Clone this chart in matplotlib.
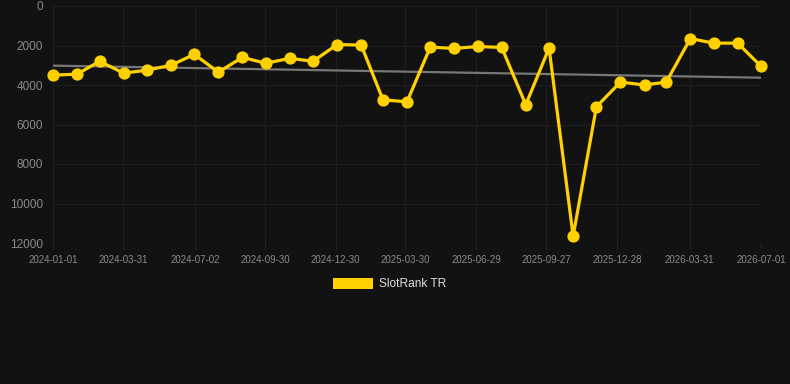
import matplotlib
matplotlib.use("Agg")
import matplotlib.pyplot as plt
import matplotlib.dates as mdates
from matplotlib.patches import Rectangle
import numpy as np
import pandas as pd

# ---- data ----
dates = pd.date_range("2024-01-01", "2026-07-01", freq="MS")
rank_values = [3500, 3450, 2800, 3400, 3250, 3000, 2450, 3350, 2600, 2900,
               2650, 2800, 1950, 1980, 4750, 4850, 2080, 2150, 2050, 2100,
               5000, 2130, 11650, 5100, 3850, 4000, 3850, 1650, 1880, 1880,
               3050]
trend_dates = ["2024-01-01", "2026-07-01"]
trend_values = [3020, 3630]
tick_labels = ["2024-01-01", "2024-03-31", "2024-07-02", "2024-09-30",
               "2024-12-30", "2025-03-30", "2025-06-29", "2025-09-27",
               "2025-12-28", "2026-03-31", "2026-07-01"]
y_ticks = [0, 2000, 4000, 6000, 8000, 10000, 12000]
series_name = "SlotRank TR"

BG = "#121212"
GOLD = "#FFD100"

plt.rcParams["font.family"] = ["Liberation Sans", "DejaVu Sans"]

W, H = 790, 384
fig = plt.figure(figsize=(W / 100, H / 100), dpi=100, facecolor=BG)
ax = fig.add_axes([53 / W, 1 - 243 / H, (761 - 53) / W, (243 - 6) / H])
ax.set_facecolor(BG)

x_ticks = pd.to_datetime(tick_labels)
ax.set_xlim(x_ticks[0], x_ticks[-1])
ax.set_ylim(12000, 0)

ax.plot(pd.to_datetime(trend_dates), trend_values, color="#777777", lw=1.6,
        solid_capstyle="butt", zorder=2)
ax.plot(dates, rank_values, color=GOLD, lw=2.3, marker="o", markersize=7.8,
        markerfacecolor=GOLD, markeredgecolor=GOLD, zorder=3, clip_on=False)

ax.set_xticks(x_ticks)
ax.set_xticklabels(tick_labels)
ax.set_yticks(y_ticks)
ax.set_yticklabels([str(v) for v in y_ticks])

ax.grid(True, color="#1e1e1e", lw=0.8)
ax.set_axisbelow(True)
for s in ax.spines.values():
    s.set_visible(False)
ax.tick_params(axis="x", colors="#262626", labelcolor="#8a8a8a", labelsize=7,
               length=4, width=0.8, pad=4.5)
ax.tick_params(axis="y", colors="#262626", labelcolor="#8a8a8a", labelsize=8.5,
               length=0, pad=7.2)

# legend
fig.patches.append(Rectangle((333 / W, 1 - 289 / H), 40 / W, 11 / H,
                             transform=fig.transFigure, facecolor=GOLD,
                             edgecolor="none"))
fig.text(379 / W, 1 - 284 / H, series_name, color="#dddddd", fontsize=8.6,
         va="center", ha="left")

fig.savefig("out.png", dpi=100, facecolor=BG)
